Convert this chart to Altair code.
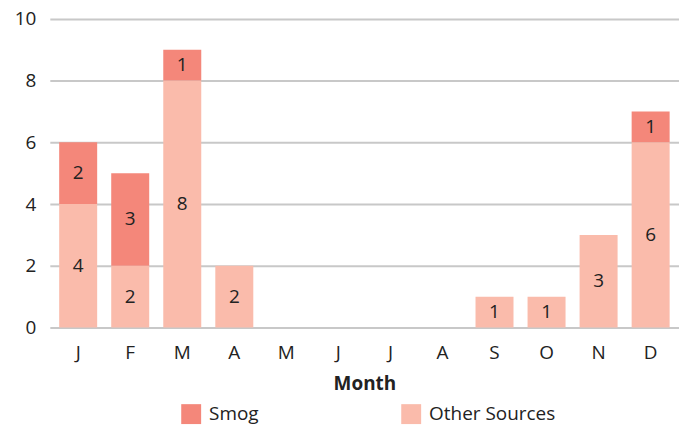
import altair as alt
import pandas as pd

months = ["Jan", "Feb", "Mar", "Apr", "May", "Jun", "Jul", "Aug", "Sep", "Oct", "Nov", "Dec"]
other_sources = [4, 2, 8, 2, 0, 0, 0, 0, 1, 1, 3, 6]
smog = [2, 3, 1, 0, 0, 0, 0, 0, 0, 0, 0, 1]

rows = []
for m, o, s in zip(months, other_sources, smog):
    rows.append({"month": m, "source": "Other Sources", "order": 0, "value": o})
    rows.append({"month": m, "source": "Smog", "order": 1, "value": s})
df = pd.DataFrame(rows)

FONT = "Open Sans"

base = alt.Chart(df).transform_stack(
    stack="value", groupby=["month"], as_=["y0", "y1"],
    sort=[alt.SortField("order", order="ascending")]
).transform_calculate(mid="(datum.y0 + datum.y1) / 2")

x = alt.X("month:N", sort=months, title="Month",
          scale=alt.Scale(paddingInner=0.27, paddingOuter=0.18),
          axis=alt.Axis(labelExpr="substring(datum.label, 0, 1)", labelAngle=0,
                        ticks=False, domain=False, labelPadding=16,
                        labelFontSize=19, labelColor="#222", labelFont=FONT,
                        titleFont=FONT, titleFontSize=19, titleFontWeight="bold",
                        titleColor="#222", titlePadding=12))

bars = base.mark_bar().encode(
    x=x,
    y=alt.Y("y0:Q", title=None, scale=alt.Scale(domain=[0, 10]),
            axis=alt.Axis(values=[0, 2, 4, 6, 8, 10], ticks=False, domain=False,
                          labelFontSize=19, labelColor="#222", labelFont=FONT,
                          labelPadding=14, gridColor="#C8C8C8", gridWidth=2)),
    y2="y1:Q",
    color=alt.Color("source:N",
                    scale=alt.Scale(domain=["Smog", "Other Sources"],
                                    range=["#F4877A", "#FABBAB"]),
                    legend=alt.Legend(title=None, orient="none", legendX=132, legendY=387,
                                      direction="horizontal", columns=2, columnPadding=143,
                                      symbolType="square", symbolSize=400,
                                      symbolStrokeWidth=0, symbolOpacity=1,
                                      labelFontSize=19, labelFont=FONT, labelColor="#222",
                                      labelOffset=8)),
)

labels = base.transform_filter("datum.value > 0").mark_text(
    fontSize=19, font=FONT, color="#222"
).encode(
    x=alt.X("month:N", sort=months),
    y=alt.Y("mid:Q"),
    text=alt.Text("value:Q"),
)

chart = (bars + labels).properties(
    width=632, height=310,
    autosize=alt.AutoSizeParams(type="none"),
    padding={"left": 42, "top": 10, "right": 0, "bottom": 98},
).configure_view(stroke=None)

chart.save("out.html", embed_options={"renderer": "svg", "actions": False})
